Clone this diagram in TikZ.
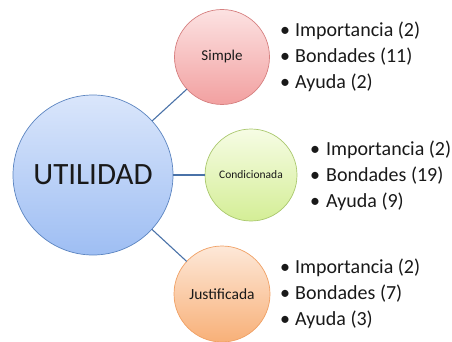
\documentclass[tikz,border=0pt]{standalone}
\usepackage{fontspec}
\setmainfont{Carlito}
\definecolor{borde}{HTML}{5B84C0}
\definecolor{enlace}{HTML}{4A72A8}
\begin{document}
\begin{tikzpicture}[line cap=round,line join=round,x=1pt,y=-1pt,
    burbuja/.style={circle,inner sep=0pt,line width=0.7pt,text=black!90},
    lista/.style={anchor=west,inner sep=0pt,align=left,text=black!90,
      font=\fontsize{20}{26}\selectfont},
    enlace/.style={draw=enlace,line width=1.1pt}]
      \useasboundingbox (0,0) rectangle (452,342);
      % circulos
      \node[burbuja,draw=borde,top color={rgb,255:red,218;green,230;blue,251},bottom color={rgb,255:red,158;green,190;blue,243},
        minimum size=160pt,font=\fontsize{31}{33}\selectfont] (util) at (93,175) {UTILIDAD};
      \node[burbuja,draw={rgb,255:red,214;green,128;blue,128},top color={rgb,255:red,252;green,226;blue,226},
        bottom color={rgb,255:red,242;green,160;blue,160},minimum size=95pt,font=\fontsize{15}{17}\selectfont] (simple) at (222,57) {Simple};
      \node[burbuja,draw={rgb,255:red,170;green,200;blue,110},top color={rgb,255:red,246;green,252;blue,228},
        bottom color={rgb,255:red,212;green,238;blue,150},minimum size=92pt,font=\fontsize{11.5}{13}\selectfont] (cond) at (251,175) {Condicionada};
      \node[burbuja,draw={rgb,255:red,240;green,160;blue,100},top color={rgb,255:red,253;green,232;blue,216},
        bottom color={rgb,255:red,248;green,176;blue,120},minimum size=96pt,font=\fontsize{15.5}{17}\selectfont] (just) at (222,294) {Justificada};
      % enlaces
      \draw[enlace] (util) -- (simple);
      \draw[enlace] (util) -- (cond);
      \draw[enlace] (util) -- (just);
      % listas
      \node[lista] (lsimple) at (280,57) {\makebox[15pt][l]{•}Importancia (2)\\\makebox[15pt][l]{•}Bondades (11)\\\makebox[15pt][l]{•}Ayuda (2)};
      \node[lista] (lcond) at (310,176) {\makebox[16pt][l]{•}Importancia (2)\\\makebox[16pt][l]{•}Bondades (19)\\\makebox[16pt][l]{•}Ayuda (9)};
      \node[lista] (ljust) at (280,294) {\makebox[15pt][l]{•}Importancia (2)\\\makebox[15pt][l]{•}Bondades (7)\\\makebox[15pt][l]{•}Ayuda (3)};
\end{tikzpicture}
\end{document}
